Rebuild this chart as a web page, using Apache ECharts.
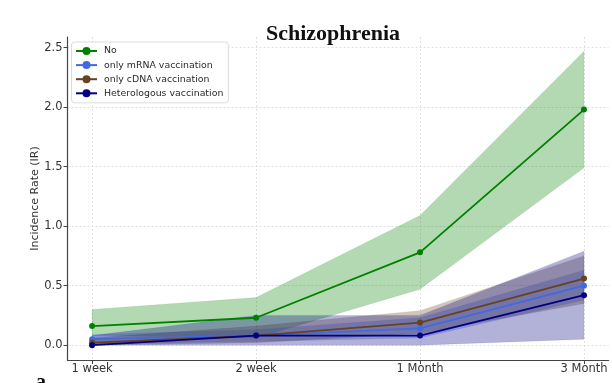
<!DOCTYPE html>
<html>
<head>
<meta charset="utf-8">
<script src="https://cdn.jsdelivr.net/npm/echarts@6/dist/echarts.min.js"></script>
<style>html,body{margin:0;padding:0;background:#fff}#c{width:612px;height:383px}</style>
</head>
<body>
<div id="c"></div>
<script>
const categories = ['1 week', '2 week', '1 Month', '3 Month'];
const yTicks = [0, 0.5, 1.0, 1.5, 2.0, 2.5];

const seriesNames = ['No', 'only mRNA vaccination', 'only cDNA vaccination', 'Heterologous vaccination'];
const seriesColors = ['#008000', '#4169E1', '#654321', '#000080'];

const noValues = [0.16, 0.23, 0.78, 1.98];
const noLower = [0.08, 0.06, 0.47, 1.49];
const noUpper = [0.30, 0.40, 1.09, 2.47];

const mrnaValues = [0.05, 0.08, 0.14, 0.50];
const mrnaLower = [0.01, 0.03, 0.06, 0.38];
const mrnaUpper = [0.09, 0.13, 0.23, 0.63];

const cdnaValues = [0.02, 0.08, 0.19, 0.56];
const cdnaLower = [0.00, 0.02, 0.10, 0.35];
const cdnaUpper = [0.06, 0.16, 0.29, 0.75];

const hetValues = [0.00, 0.08, 0.08, 0.42];
const hetLower = [0.00, 0.00, 0.00, 0.05];
const hetUpper = [0.08, 0.25, 0.25, 0.79];

const groups = [
  {values: noValues, lower: noLower, upper: noUpper},
  {values: mrnaValues, lower: mrnaLower, upper: mrnaUpper},
  {values: cdnaValues, lower: cdnaLower, upper: cdnaUpper},
  {values: hetValues, lower: hetLower, upper: hetUpper}
];

function hexToRgba(hex, a) {
  const n = parseInt(hex.slice(1), 16);
  return 'rgba(' + ((n >> 16) & 255) + ',' + ((n >> 8) & 255) + ',' + (n & 255) + ',' + a + ')';
}

const bandSeries = groups.map((g, k) => ({
  type: 'custom',
  silent: true,
  z: 1,
  data: [[0]],
  renderItem: function (params, api) {
    const pts = [];
    g.upper.forEach((v, i) => pts.push(api.coord([i, v])));
    for (let i = g.lower.length - 1; i >= 0; i--) pts.push(api.coord([i, g.lower[i]]));
    return {
      type: 'polygon',
      shape: {points: pts},
      style: {fill: hexToRgba(seriesColors[k], 0.3), stroke: hexToRgba(seriesColors[k], 0.15), lineWidth: 0.6}
    };
  }
}));

const lineSeries = groups.map((g, k) => ({
  type: 'line',
  name: seriesNames[k],
  z: 3,
  data: g.values.map((v, i) => [i, v]),
  symbol: 'circle',
  symbolSize: 6,
  showSymbol: true,
  lineStyle: {color: seriesColors[k], width: 1.8},
  itemStyle: {color: seriesColors[k]},
  emphasis: {disabled: true}
}));

const chart = echarts.init(document.getElementById('c'), null, {renderer: 'canvas'});
chart.setOption({
  animation: false,
  backgroundColor: '#fff',
  title: {
    text: 'Schizophrenia',
    left: 261,
    top: 18,
    textStyle: {fontFamily: 'Liberation Serif', fontWeight: 'bold', fontSize: 22, color: '#111'}
  },
  graphic: [{
    type: 'text', left: 36, top: 373,
    style: {text: 'a', font: 'bold 20px "Liberation Serif"', fill: '#111'}
  }],
  legend: {
    data: seriesNames,
    orient: 'vertical',
    left: 71.5,
    top: 42,
    itemWidth: 21,
    itemHeight: 10,
    itemGap: 5.1,
    padding: [4.5, 5, 5, 3.5],
    borderColor: '#dcdcdc',
    borderWidth: 1,
    borderRadius: 3,
    backgroundColor: 'rgba(255,255,255,0.85)',
    textStyle: {fontFamily: 'DejaVu Sans', fontSize: 9.4, color: '#2a2a2a', padding: [0, 0, 0, 2]}
  },
  grid: {left: 67.5, right: 3.4, top: 37, bottom: 23, containLabel: false},
  xAxis: {
    type: 'value',
    min: -0.15,
    max: 3.15,
    axisLine: {show: true, onZero: false, lineStyle: {color: '#444', width: 1.2}},
    axisTick: {show: true, customValues: [0, 1, 2, 3], length: 4, lineStyle: {color: '#444'}},
    axisLabel: {
      customValues: [0, 1, 2, 3],
      formatter: v => categories[Math.round(v)],
      fontFamily: 'DejaVu Sans', fontSize: 11.5, color: '#333', margin: 3
    },
    splitLine: {show: true, lineStyle: {color: '#d9d9d9', type: [2, 2], width: 0.8}}
  },
  yAxis: {
    type: 'value',
    min: -0.125,
    max: 2.59,
    name: 'Incidence Rate (IR)',
    nameLocation: 'middle',
    nameGap: 27,
    nameMoveOverlap: false,
    nameTextStyle: {fontFamily: 'DejaVu Sans', fontSize: 11, color: '#333'},
    axisLine: {show: true, onZero: false, lineStyle: {color: '#444', width: 1.2}},
    axisTick: {show: true, customValues: yTicks, length: 4, lineStyle: {color: '#444'}},
    axisLabel: {
      customValues: yTicks,
      formatter: v => v.toFixed(1),
      fontFamily: 'DejaVu Sans', fontSize: 11.5, color: '#333', margin: 5
    },
    splitLine: {show: true, lineStyle: {color: '#d9d9d9', type: [2, 2], width: 0.8}}
  },
  series: bandSeries.concat(lineSeries)
});
</script>
</body>
</html>
